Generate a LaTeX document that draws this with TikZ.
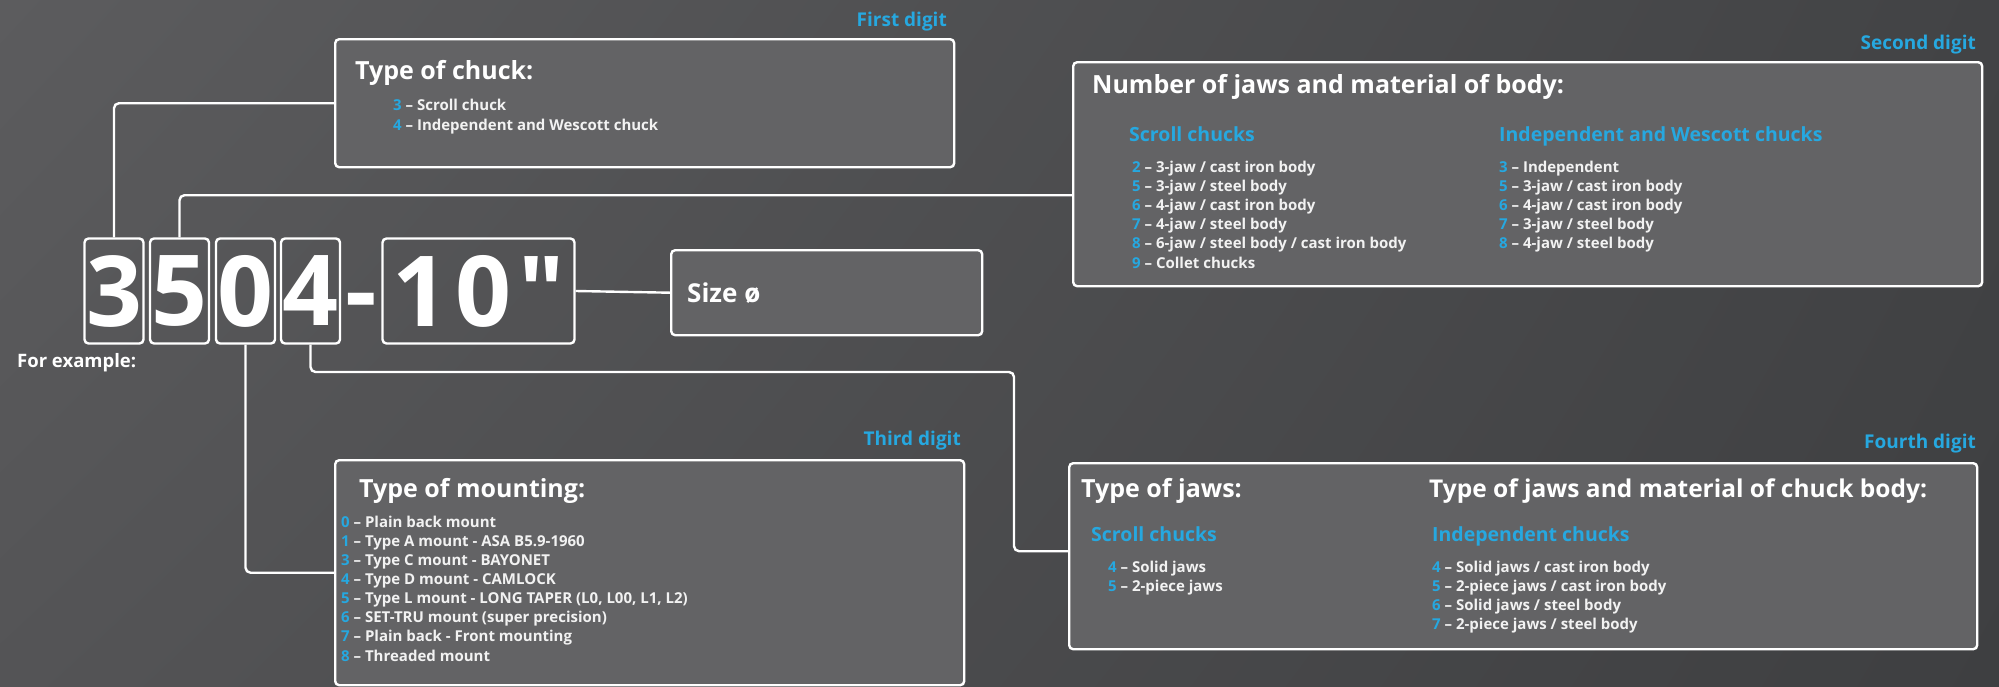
\documentclass[tikz,border=0pt]{standalone}
\usepackage{fontspec}
\setmainfont{Open Sans}
\usetikzlibrary{positioning,shadings}

\definecolor{bgtl}{RGB}{92,92,94}
\definecolor{bgtr}{RGB}{66,67,69}
\definecolor{bgbl}{RGB}{84,84,86}
\definecolor{bgbr}{RGB}{62,63,65}
\definecolor{boxgray}{RGB}{99,99,101}
\definecolor{digitblue}{RGB}{38,168,224}
\definecolor{itemwhite}{RGB}{242,242,242}

\newcommand{\nr}[1]{\textcolor{digitblue}{#1}~–~}
\newcommand{\fsz}[1]{\fontsize{#1}{#1}\selectfont\bfseries}

\tikzset{
  wire/.style={draw=white, line width=2.4pt, rounded corners=5pt},
  digitbox/.style={draw=white, line width=2.4pt, rounded corners=4pt, fill=none,
    minimum width=59pt, minimum height=105pt, inner sep=0pt, text=white,
    font=\fsz{98}},
  infobox/.style={draw=white, line width=2.4pt, rounded corners=4pt, fill=boxgray,
    anchor=north west, inner sep=0pt},
  digitlabel/.style={anchor=base east, inner sep=0pt, text=digitblue, font=\fsz{19}},
  boxtitle/.style={anchor=base west, inner sep=0pt, text=white, font=\fsz{25}},
  subhead/.style={anchor=base west, inner sep=0pt, text=digitblue, font=\fsz{19.5}},
  item/.style={anchor=base west, inner sep=0pt, text=itemwhite, font=\fsz{15}}
}

\begin{document}
\begin{tikzpicture}[x=1pt, y=-1pt]
\useasboundingbox (0,0) rectangle (1999,686);
\shade[upper left=bgtl, upper right=bgtr, lower left=bgbl, lower right=bgbr] (0,0) rectangle (1999,686);

% example number
\node[digitbox] (d3) at (114,291) {3};
\node[digitbox] (d5) at (179.5,291) {5};
\node[digitbox] (d0) at (245.5,291) {0};
\node[digitbox] (d4) at (310.5,291) {4};
\node[anchor=base, inner sep=0pt, text=white, font=\fsz{98}] (dash) at (361,325) {-};
\node[digitbox, minimum width=192pt] (ten) at (478.5,291)
  {\addfontfeature{LetterSpace=7,Ligatures=TeXOff}10"};
\node[anchor=base west, inner sep=0pt, text=white, font=\fsz{18.5}] (example) at (17,367) {For example:};

% size
\node[infobox, minimum width=311pt, minimum height=85pt] (sizebox) at (670,249) {};
\node[anchor=base west, inner sep=0pt, text=white, font=\fsz{26}] (sizetext) at (687,302) {Size ø};

% first digit
\node[digitlabel] (first) at (947,26) {First digit};
\node[infobox, minimum width=619pt, minimum height=128pt] (chuckbox) at (334,38) {};
\node[boxtitle] (chucktitle) at (355,79) {Type of chuck:};
\node[item] (chuck3) at (393,110) {\nr{3}Scroll chuck};
\node[item] (chuck4) at (393,130) {\nr{4}Independent and Wescott chuck};

% second digit
\node[digitlabel] (second) at (1976,49) {Second digit};
\node[infobox, minimum width=909pt, minimum height=224pt] (bodybox) at (1072,61) {};
\node[boxtitle] (bodytitle) at (1092,93) {Number of jaws and material of body:};
\node[subhead] (bodyscroll) at (1129,141) {Scroll chucks};
\node[subhead] (bodyindep) at (1499,141) {Independent and Wescott chucks};
\foreach \n/\t [count=\i from 0] in {2/{3-jaw / cast iron body}, 5/{3-jaw / steel body},
    6/{4-jaw / cast iron body}, 7/{4-jaw / steel body},
    8/{6-jaw / steel body / cast iron body}, 9/{Collet chucks}}
  \node[item] (bodyS\i) at (1132,{172+19.2*\i}) {\nr{\n}\t};
\foreach \n/\t [count=\i from 0] in {3/{Independent}, 5/{3-jaw / cast iron body},
    6/{4-jaw / cast iron body}, 7/{3-jaw / steel body}, 8/{4-jaw / steel body}}
  \node[item] (bodyI\i) at (1499,{172+19.2*\i}) {\nr{\n}\t};

% third digit
\node[digitlabel] (third) at (961,445) {Third digit};
\node[infobox, minimum width=629pt, minimum height=225pt] (mountbox) at (334,459) {};
\node[boxtitle] (mounttitle) at (359,497) {Type of mounting:};
\foreach \n/\t [count=\i from 0] in {0/{Plain back mount}, 1/{Type A mount - ASA B5.9-1960},
    3/{Type C mount - BAYONET}, 4/{Type D mount - CAMLOCK},
    5/{Type L mount - LONG TAPER (L0, L00, L1, L2)}, 6/{SET-TRU mount (super precision)},
    7/{Plain back - Front mounting}, 8/{Threaded mount}}
  \node[item] (mount\i) at (341,{527+19.15*\i}) {\nr{\n}\t};

% fourth digit
\node[digitlabel] (fourth) at (1976,448) {Fourth digit};
\node[infobox, minimum width=908pt, minimum height=186pt] (jawbox) at (1068,462) {};
\node[boxtitle] (jawtitle) at (1081,497) {Type of jaws:};
\node[boxtitle, font=\fsz{24.5}] (jawtitle2) at (1429,497) {Type of jaws and material of chuck body:};
\node[subhead] (jawscroll) at (1091,541) {Scroll chucks};
\node[subhead] (jawindep) at (1432,541) {Independent chucks};
\node[item] (jawS0) at (1108,572) {\nr{4}Solid jaws};
\node[item] (jawS1) at (1108,591) {\nr{5}2-piece jaws};
\foreach \n/\t [count=\i from 0] in {4/{Solid jaws / cast iron body}, 5/{2-piece jaws / cast iron body},
    6/{Solid jaws / steel body}, 7/{2-piece jaws / steel body}}
  \node[item] (jawI\i) at (1432,{572+19.3*\i}) {\nr{\n}\t};

% connectors
\coordinate (bend4) at (1014,372);
\draw[wire] (d3.north) |- (chuckbox.west);
\draw[wire] (d5.north) |- ([yshift=-21pt]bodybox.west);
\draw[wire] (d0.south) |- (mountbox.west);
\draw[wire] (d4.south) |- (bend4) |- ([yshift=5pt]jawbox.west);
\draw[wire] (ten.east) -- (sizebox.west);
\end{tikzpicture}
\end{document}
